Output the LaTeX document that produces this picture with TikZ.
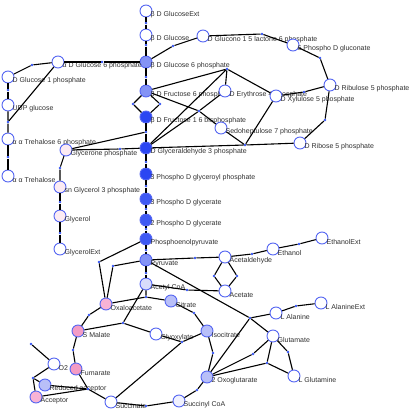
\documentclass[tikz,border=0pt]{standalone}
\usepackage{fontspec}
\setmainfont{Liberation Sans}
\usepackage{xcolor}
\usepackage{tikz}
\definecolor{ringblue}{HTML}{5566F2}
\definecolor{rxnblue}{HTML}{3352F2}
\definecolor{fluxhi}{HTML}{2B46F2}
\definecolor{fluxmid}{HTML}{3E59F3}
\definecolor{fluxlow}{HTML}{8493F5}
\definecolor{fluxpale}{HTML}{B8BFF8}
\definecolor{fluxfaint}{HTML}{D8DCFB}
\definecolor{fluxtrace}{HTML}{F0F1FE}
\definecolor{backhi}{HTML}{F39CC5}
\definecolor{backmid}{HTML}{F7B3D5}
\definecolor{backlow}{HTML}{FCEBF3}
\definecolor{labelgray}{HTML}{303030}

\begin{document}
\begin{tikzpicture}[
    x=1pt, y=-1pt,
    metab/.style={circle, draw=ringblue, line width=0.9pt, fill=#1, minimum size=12pt, inner sep=0pt},
    metab/.default=white,
    rxn/.style={circle, fill=rxnblue, minimum size=2.6pt, inner sep=0pt},
    lbl/.style={font=\fontsize{7}{8}\selectfont, text=labelgray, inner sep=0pt, xshift=-2pt, yshift=-4pt},
    edge/.style={line width=1.1pt},
    flux/.style={line width=1.8pt},
]
\useasboundingbox (0,0) rectangle (420,415);

% Metabolites
\node[metab, label={[lbl]right:β D GlucoseExt}] (glcext) at (146,11) {};
\node[metab, label={[lbl]right:β D Glucose}] (glc) at (146,35) {};
\node[metab=fluxlow, label={[lbl]right:β D Glucose 6 phosphate}] (bg6p) at (146,62) {};
\node[metab=fluxlow, label={[lbl]right:β D Fructose 6 phosphate}] (f6p) at (146,91) {};
\node[metab=fluxhi, label={[lbl]right:β D Fructose 1 6 bisphosphate}] (fbp) at (146,117) {};
\node[metab=fluxhi, label={[lbl]right:D Glyceraldehyde 3 phosphate}] (gap) at (146,148) {};
\node[metab=fluxhi, label={[lbl]right:3 Phospho D glyceroyl phosphate}] (bpg) at (146,174) {};
\node[metab=fluxmid, label={[lbl]right:3 Phospho D glycerate}] (pg3) at (146,199) {};
\node[metab=fluxmid, label={[lbl]right:2 Phospho D glycerate}] (pg2) at (146,220) {};
\node[metab=fluxmid, label={[lbl]right:Phosphoenolpyruvate}] (pep) at (146,239) {};
\node[metab=fluxlow, label={[lbl]right:Pyruvate}] (pyr) at (146,260) {};
\node[metab=fluxfaint, label={[lbl]right:Acetyl CoA}] (accoa) at (146,284) {};

\node[metab, label={[lbl]right:α D Glucose 6 phosphate}] (ag6p) at (58,62) {};
\node[metab, label={[lbl]right:D Glucose 1 phosphate}] (g1p) at (8,77) {};
\node[metab, label={[lbl]right:UDP glucose}] (udpg) at (8,105) {};
\node[metab, label={[lbl]right:α α Trehalose 6 phosphate}] (t6p) at (8,139) {};
\node[metab, label={[lbl]right:α α Trehalose}] (tre) at (8,176) {};
\node[metab=backlow, label={[lbl]right:Glycerone phosphate}] (dhap) at (66,150) {};
\node[metab=backlow, label={[lbl]right:sn Glycerol 3 phosphate}] (g3p) at (60,187) {};
\node[metab=backlow, label={[lbl]right:Glycerol}] (glyc) at (60,216) {};
\node[metab, label={[lbl]right:GlycerolExt}] (glycext) at (60,249) {};

\node[metab, label={[lbl]right:D Glucono 1 5 lactone 6 phosphate}] (lac) at (203,36) {};
\node[metab, label={[lbl]right:6 Phospho D gluconate}] (pgn) at (293,45) {};
\node[metab, label={[lbl]right:D Ribulose 5 phosphate}] (ru5p) at (330,85) {};
\node[metab, label={[lbl]right:D Erythrose 4 phosphate}] (e4p) at (225,91) {};
\node[metab, label={[lbl]right:D Xylulose 5 phosphate}] (xu5p) at (276,96) {};
\node[metab, label={[lbl]right:Sedoheptulose 7 phosphate}] (s7p) at (221,128) {};
\node[metab, label={[lbl]right:D Ribose 5 phosphate}] (r5p) at (300,143) {};

\node[metab, label={[lbl]right:Acetaldehyde}] (acald) at (225,257) {};
\node[metab, label={[lbl]right:Acetate}] (ac) at (225,291) {};
\node[metab, label={[lbl]right:Ethanol}] (etoh) at (273,249) {};
\node[metab, label={[lbl]right:EthanolExt}] (etohext) at (322,238) {};

\node[metab=backmid, label={[lbl]right:Oxaloacetate}] (oaa) at (106,304) {};
\node[metab=fluxpale, label={[lbl]right:Citrate}] (cit) at (171,301) {};
\node[metab=backhi, label={[lbl]right:S Malate}] (mal) at (78,331) {};
\node[metab, label={[lbl]right:Glyoxylate}] (glx) at (156,334) {};
\node[metab=fluxpale, label={[lbl]right:Isocitrate}] (icit) at (207,331) {};
\node[metab=backhi, label={[lbl]right:Fumarate}] (fum) at (76,369) {};
\node[metab, label={[lbl]right:O2}] (o2) at (54,364) {};
\node[metab=fluxpale, label={[lbl]right:Reduced acceptor}] (redacc) at (45,385) {};
\node[metab=backmid, label={[lbl]right:Acceptor}] (acc) at (36,397) {};
\node[metab, label={[lbl]right:Succinate}] (succ) at (111,402) {};
\node[metab=fluxtrace, label={[lbl]right:Succinyl CoA}] (sucoa) at (179,401) {};
\node[metab=fluxpale, label={[lbl]right:2 Oxoglutarate}] (akg) at (207,377) {};
\node[metab, label={[lbl]right:L Alanine}] (ala) at (276,313) {};
\node[metab, label={[lbl]right:L AlanineExt}] (alaext) at (321,303) {};
\node[metab, label={[lbl]right:Glutamate}] (glu) at (273,336) {};
\node[metab, label={[lbl]right:L Glutamine}] (gln) at (294,376) {};

% Reactions
\node[rxn] (glcup) at (146,23) {};
\node[rxn] (hex) at (146,45) {};
\node[rxn] (g6pdh) at (173,46) {};
\node[rxn] (lacase) at (262,34) {};
\node[rxn] (gnd) at (320,58) {};
\node[rxn] (rpe) at (304,92) {};
\node[rxn] (rpi) at (325,120) {};
\node[rxn] (tkta) at (245,145) {};
\node[rxn] (tktb) at (227,69) {};
\node[rxn] (tal) at (199,111) {};
\node[rxn] (pgi) at (146,77) {};
\node[rxn] (pfka) at (133,104) {};
\node[rxn] (pfkb) at (160,104) {};
\node[rxn] (fba) at (146,132) {};
\node[rxn] (tpi) at (120,149) {};
\node[rxn] (gapdh) at (146,162) {};
\node[rxn] (pgk) at (146,186) {};
\node[rxn] (pgm) at (146,209) {};
\node[rxn] (eno) at (146,229) {};
\node[rxn] (pyk) at (146,250) {};
\node[rxn] (pdh) at (146,273) {};
\node[rxn] (pck) at (99,262) {};
\node[rxn] (pyc) at (113,266) {};
\node[rxn] (pdc) at (195,258) {};
\node[rxn] (adh) at (252,254) {};
\node[rxn] (etohout) at (299,244) {};
\node[rxn] (alda) at (214,276) {};
\node[rxn] (aldb) at (237,276) {};
\node[rxn] (acs) at (187,290) {};
\node[rxn] (alt) at (250,318) {};
\node[rxn] (alaout) at (296,306) {};
\node[rxn] (gdh) at (253,354) {};
\node[rxn] (gogat) at (267,363) {};
\node[rxn] (gs) at (288,352) {};
\node[rxn] (cs) at (146,297) {};
\node[rxn] (acn) at (194,313) {};
\node[rxn] (icd) at (213,353) {};
\node[rxn] (icl) at (182,342) {};
\node[rxn] (mls) at (123,323) {};
\node[rxn] (mdh) at (89,315) {};
\node[rxn] (fumase) at (73,350) {};
\node[rxn] (sdh) at (88,389) {};
\node[rxn] (akgdh) at (197,390) {};
\node[rxn] (sucd) at (146,406) {};
\node[rxn] (resp) at (33,378) {};
\node[rxn] (o2in) at (31,344) {};
\node[rxn] (mut) at (102,62) {};
\node[rxn] (pgmt) at (32,65) {};
\node[rxn] (ugp) at (8,90) {};
\node[rxn] (tps) at (8,122) {};
\node[rxn] (tpp) at (8,157) {};
\node[rxn] (gpd) at (60,168) {};
\node[rxn] (gpp) at (60,202) {};
\node[rxn] (glycout) at (60,233) {};

% Edges
\draw[flux] (glcext) -- (glcup) -- (glc);
\draw[flux] (glc) -- (hex) -- (bg6p);
\draw[flux] (ag6p) -- (mut) -- (bg6p);
\draw[flux] (bg6p) -- (pgi) -- (f6p);
\draw[edge] (f6p) -- (pfka) -- (fbp);
\draw[edge] (f6p) -- (pfkb) -- (fbp);
\draw[flux] (fbp) -- (fba) -- (gap);
\draw[edge] (fba) -- (dhap);
\draw[edge] (dhap) -- (tpi) -- (gap);
\draw[flux] (gap) -- (gapdh) -- (bpg);
\draw[flux] (bpg) -- (pgk) -- (pg3);
\draw[flux] (pg3) -- (pgm) -- (pg2);
\draw[flux] (pg2) -- (eno) -- (pep);
\draw[flux] (pep) -- (pyk) -- (pyr);
\draw[edge] (pyr) -- (pdh) -- (accoa);
\draw[edge] (pep) -- (pck) -- (oaa);
\draw[edge] (pyr) -- (pyc) -- (oaa);
\draw[edge] (pyr) -- (pdc) -- (acald);
\draw[edge] (acald) -- (adh) -- (etoh);
\draw[edge] (etoh) -- (etohout) -- (etohext);
\draw[edge] (acald) -- (alda) -- (ac);
\draw[edge] (acald) -- (aldb) -- (ac);
\draw[edge] (ac) -- (acs) -- (accoa);

\draw[edge] (bg6p) -- (g6pdh) -- (lac);
\draw[edge] (lac) -- (lacase) -- (pgn);
\draw[edge] (pgn) -- (gnd) -- (ru5p);
\draw[edge] (ru5p) -- (rpe) -- (xu5p);
\draw[edge] (ru5p) -- (rpi) -- (r5p);
\draw[edge] (xu5p) -- (tkta) -- (r5p) (gap) -- (tkta) -- (s7p);
\draw[edge] (xu5p) -- (tktb) -- (e4p) (f6p) -- (tktb) -- (gap);
\draw[edge] (s7p) -- (tal) -- (f6p) (gap) -- (tal) -- (e4p);

\draw[edge] (ag6p) -- (pgmt) -- (g1p);
\draw[edge] (g1p) -- (ugp) -- (udpg);
\draw[edge] (udpg) -- (tps) -- (t6p) (ag6p) -- (tps);
\draw[edge] (t6p) -- (tpp) -- (tre);
\draw[edge] (dhap) -- (gpd) -- (g3p);
\draw[edge] (g3p) -- (gpp) -- (glyc);
\draw[edge] (glyc) -- (glycout) -- (glycext);

\draw[edge] (accoa) -- (cs) -- (cit) (oaa) -- (cs);
\draw[edge] (cit) -- (acn) -- (icit);
\draw[edge] (icit) -- (icd) -- (akg);
\draw[edge] (icit) -- (icl) -- (glx) (icl) -- (succ);
\draw[edge] (glx) -- (mls) -- (mal) (accoa) -- (mls);
\draw[edge] (mal) -- (mdh) -- (oaa);
\draw[edge] (fum) -- (fumase) -- (mal);
\draw[edge] (succ) -- (sdh) -- (fum) (acc) -- (sdh) -- (redacc);
\draw[edge] (akg) -- (akgdh) -- (sucoa);
\draw[edge] (sucoa) -- (sucd) -- (succ);
\draw[edge] (redacc) -- (resp) -- (acc) (o2) -- (resp);
\draw[edge] (o2in) -- (o2);

\draw[edge] (pyr) -- (alt) -- (ala) (glu) -- (alt) -- (akg);
\draw[edge] (ala) -- (alaout) -- (alaext);
\draw[edge] (akg) -- (gdh) -- (glu);
\draw[edge] (akg) -- (gogat) -- (glu) (gogat) -- (gln);
\draw[edge] (glu) -- (gs) -- (gln);

\end{tikzpicture}
\end{document}
